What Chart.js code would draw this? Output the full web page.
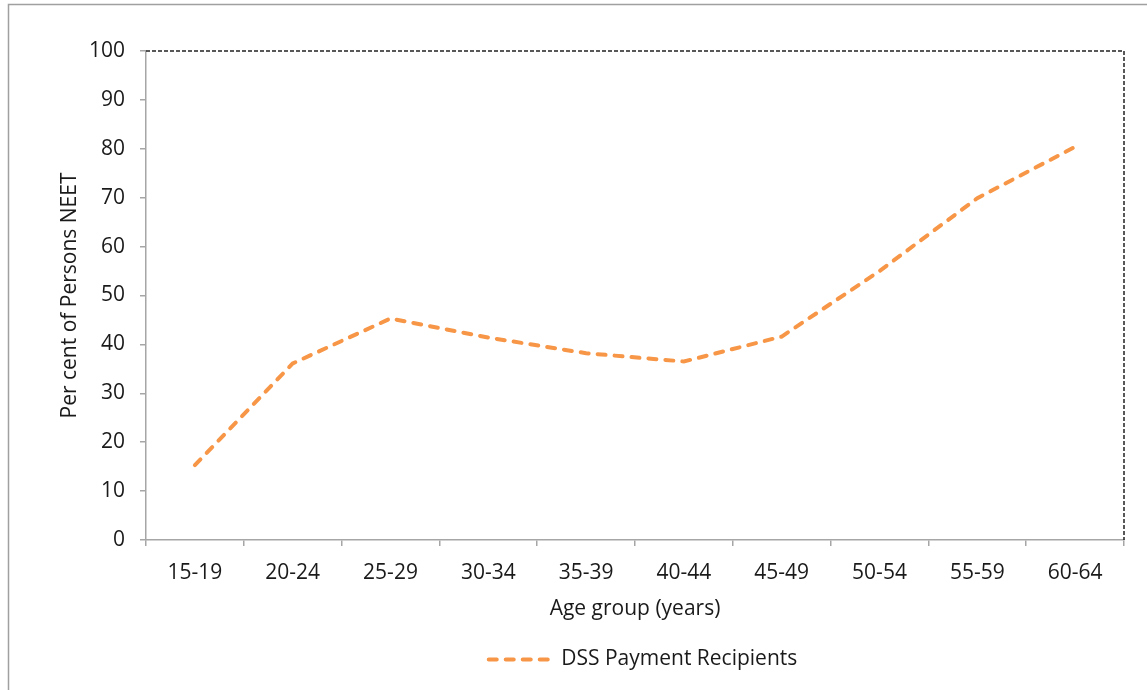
<!DOCTYPE html>
<html>
<head>
<meta charset="utf-8">
<title>DSS Payment Recipients NEET</title>
<script src="https://cdn.jsdelivr.net/npm/chart.js@4.4.1/dist/chart.umd.min.js"></script>
<style>
    html, body { margin: 0; padding: 0; background: #fff; }
    #wrap { width: 1147px; height: 690px; }
</style>
</head>
<body>
<div id="wrap"><canvas id="neetChart" width="1147" height="690"></canvas></div>
<script>
const ageGroups = ["15-19", "20-24", "25-29", "30-34", "35-39", "40-44", "45-49", "50-54", "55-59", "60-64"];
const dssRecipients = [15.3, 36.1, 45.3, 41.4, 38.2, 36.5, 41.6, 55.0, 69.9, 80.4];
const yTickMin = 0;
const yTickMax = 100;
const yTickStep = 10;

const FONT = "'Open Sans', 'DejaVu Sans', sans-serif";
const FONT_SIZE = 21;
const TEXT = "#1a1a1a";
const AXIS_GREY = "#a6a6a6";
const LINE_ORANGE = "#f79646";
const LINE_DASH = [8, 9];

// outer frame + dashed top/right edge of the plot area
const framePlugin = {
    id: "frame",
    beforeDraw(chart) {
        const ctx = chart.ctx;
        ctx.save();
        ctx.fillStyle = "#fff";
        ctx.fillRect(0, 0, chart.width, chart.height);
        ctx.strokeStyle = "#a0a0a0";
        ctx.lineWidth = 1.5;
        ctx.strokeRect(8.5, 4.5, chart.width + 20, chart.height + 20);
        ctx.restore();
    },
    afterDraw(chart) {
        const { left, top, right, bottom } = chart.chartArea;
        const ctx = chart.ctx;
        ctx.save();
        ctx.strokeStyle = "#222";
        ctx.lineWidth = 1.5;
        ctx.setLineDash([4, 2]);
        ctx.beginPath();
        ctx.moveTo(left, top);
        ctx.lineTo(right, top);
        ctx.lineTo(right, bottom);
        ctx.stroke();
        ctx.restore();
    },
    afterLayout(chart) {
        // legend in the original sits a little right of the plot centre
        chart.legend.left += 8;
        chart.legend.right += 8;
    }
};

function legendLabels(chart) {
    const items = Chart.defaults.plugins.legend.labels.generateLabels(chart);
    return items.map(item => ({
        ...item,
        pointStyle: "line",
        lineWidth: 4,
        lineDash: LINE_DASH,
        lineCap: "round",
        strokeStyle: LINE_ORANGE,
        fillStyle: LINE_ORANGE
    }));
}

function renderChart() {
    const ctx = document.getElementById("neetChart").getContext("2d");

    new Chart(ctx, {
        type: "line",
        data: {
            labels: ageGroups,
            datasets: [
                {
                    label: "DSS Payment Recipients",
                    data: dssRecipients,
                    borderColor: LINE_ORANGE,
                    backgroundColor: LINE_ORANGE,
                    borderWidth: 4,
                    borderDash: LINE_DASH,
                    borderCapStyle: "round",
                    pointRadius: 0,
                    tension: 0,
                    fill: false
                }
            ]
        },
        options: {
            responsive: false,
            animation: false,
            layout: { padding: { left: 0, top: 51, right: 23, bottom: 10 } },
            plugins: {
                tooltip: { enabled: false },
                legend: {
                    position: "bottom",
                    fullSize: false,
                    labels: {
                        usePointStyle: true,
                        pointStyle: "line",
                        pointStyleWidth: 62,
                        padding: 21,
                        color: TEXT,
                        font: { family: FONT, size: FONT_SIZE },
                        generateLabels: legendLabels
                    }
                }
            },
            scales: {
                x: {
                    offset: true,
                    grid: { offset: true, drawOnChartArea: false, tickLength: 6, color: AXIS_GREY, lineWidth: 1.5 },
                    border: { color: AXIS_GREY, width: 1.5, dash: [4, 1] },
                    ticks: { color: TEXT, padding: 14, maxRotation: 0, font: { family: FONT, size: FONT_SIZE } },
                    title: {
                        display: true,
                        text: "Age group (years)",
                        color: TEXT,
                        font: { family: FONT, size: FONT_SIZE },
                        padding: { top: 0, bottom: 6.5 }
                    },
                    afterFit(scale) { scale.height = 88; }
                },
                y: {
                    min: yTickMin,
                    max: yTickMax,
                    grid: { drawOnChartArea: false, tickLength: 6, color: AXIS_GREY, lineWidth: 1.5 },
                    border: { color: AXIS_GREY, width: 1.5, dash: [4, 1] },
                    ticks: { stepSize: yTickStep, color: TEXT, padding: 15, font: { family: FONT, size: FONT_SIZE } },
                    title: {
                        display: true,
                        text: "Per cent of Persons NEET",
                        color: TEXT,
                        font: { family: FONT, size: FONT_SIZE },
                        padding: { top: 57.5, bottom: 0 }
                    },
                    afterFit(scale) { scale.width = 146; }
                }
            }
        },
        plugins: [framePlugin]
    });
}

document.addEventListener("DOMContentLoaded", renderChart);
</script>
</body>
</html>
